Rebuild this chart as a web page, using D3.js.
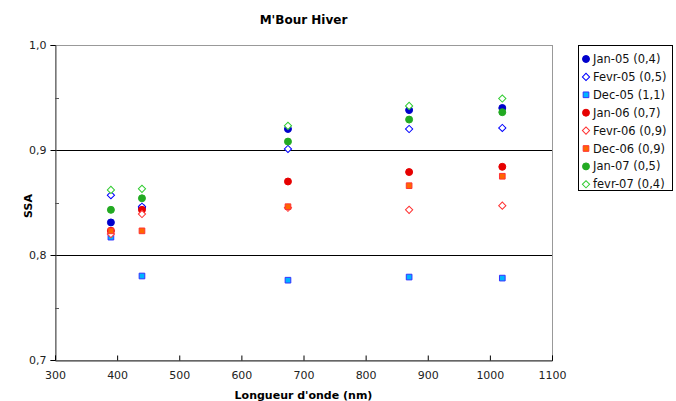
<!DOCTYPE html>
<html>
<head>
<meta charset="utf-8">
<script src="https://cdn.jsdelivr.net/npm/d3@7"></script>
<style>
  body { margin: 0; background: #fff; }
  svg { font-family: "DejaVu Sans", Verdana, sans-serif; }
</style>
</head>
<body>
<svg id="chart" width="676" height="401"></svg>
<script>
// wavelengths (nm)
var wavelengths = [390, 440, 675, 870, 1020];

// SSA values per campaign
var jan05  = [0.831, 0.845, 0.920, 0.938, 0.940];
var fevr05 = [0.857, 0.846, 0.901, 0.920, 0.921];
var dec05  = [0.817, 0.780, 0.776, 0.779, 0.778];
var jan06  = [0.823, 0.843, 0.870, 0.879, 0.884];
var fevr06 = [0.820, 0.839, 0.845, 0.843, 0.847];
var dec06  = [0.823, 0.823, 0.846, 0.866, 0.875];
var jan07  = [0.843, 0.854, 0.908, 0.929, 0.936];
var fevr07 = [0.862, 0.863, 0.923, 0.942, 0.949];

var xTicks = [300, 400, 500, 600, 700, 800, 900, 1000, 1100];
var yTicks = [0.7, 0.8, 0.9, 1.0];
var yMinor = [0.75, 0.85, 0.95];

var series = [
    { name: "Jan-05 (0,4)",  values: jan05,  shape: "circle",  fill: "#0000cc", stroke: "#0000cc" },
    { name: "Fevr-05 (0,5)", values: fevr05, shape: "diamond", fill: "#fff",    stroke: "#0000ff" },
    { name: "Dec-05 (1,1)",  values: dec05,  shape: "square",  fill: "#00b4ff", stroke: "#3333ff" },
    { name: "Jan-06 (0,7)",  values: jan06,  shape: "circle",  fill: "#e60000", stroke: "#e60000" },
    { name: "Fevr-06 (0,9)", values: fevr06, shape: "diamond", fill: "#fff",    stroke: "#ff3333" },
    { name: "Dec-06 (0,9)",  values: dec06,  shape: "square",  fill: "#ff6600", stroke: "#ff3333" },
    { name: "Jan-07 (0,5)",  values: jan07,  shape: "circle",  fill: "#22aa22", stroke: "#22aa22" },
    { name: "fevr-07 (0,4)", values: fevr07, shape: "diamond", fill: "#fff",    stroke: "#33cc33" }
];

var svg = d3.select("#chart");
var pL = 55, pR = 552, pT = 45, pB = 360;

var x = d3.scaleLinear().domain([300, 1100]).range([pL, pR]);
var y = d3.scaleLinear().domain([0.7, 1.0]).range([pB, pT]);
var fmt = d => d3.format(".1f")(d).replace(".", ",");

function symbolPath(shape) {
    if (shape === "circle") return d3.symbol(d3.symbolCircle, 38)();
    if (shape === "square") return d3.symbol(d3.symbolSquare, 32)();
    return d3.symbol(d3.symbolSquare, 26)();
}
function symbolRot(shape) { return shape === "diamond" ? " rotate(45)" : ""; }

// title
svg.append("text").attr("x", (pL + pR) / 2).attr("y", 24)
    .attr("text-anchor", "middle").attr("font-size", 12).attr("font-weight", "bold")
    .text("M'Bour Hiver");

// plot frame
svg.append("rect").attr("x", pL + 0.5).attr("y", pT + 0.5)
    .attr("width", pR - pL).attr("height", pB - pT)
    .attr("fill", "none").attr("stroke", "#999");

// gridlines
svg.append("g").selectAll("line").data(yTicks.filter(d => d > 0.7 && d < 1.0)).join("line")
    .attr("x1", pL).attr("x2", pR)
    .attr("y1", d => Math.round(y(d)) + 0.5).attr("y2", d => Math.round(y(d)) + 0.5)
    .attr("stroke", "#000");

// y axis
var yAxis = d3.axisLeft(y).tickValues(yTicks).tickFormat(fmt).tickSize(5).tickPadding(4);
var gy = svg.append("g").attr("transform", `translate(${pL + 0.5},0)`).call(yAxis);
gy.select(".domain").attr("stroke", "#555");
gy.selectAll("text").attr("font-size", 11).attr("font-family", "DejaVu Sans").attr("fill", "#222");
svg.append("g").selectAll("line").data(yMinor).join("line")
    .attr("x1", pL).attr("x2", pL + 4)
    .attr("y1", d => Math.round(y(d)) + 0.5).attr("y2", d => Math.round(y(d)) + 0.5)
    .attr("stroke", "#555");

// x axis
var xAxis = d3.axisBottom(x).tickValues(xTicks).tickFormat(d3.format("d")).tickSize(-5).tickPadding(11);
var gx = svg.append("g").attr("transform", `translate(0,${pB + 0.5})`).call(xAxis);
gx.select(".domain").attr("stroke", "#333");
gx.selectAll("text").attr("font-size", 11).attr("font-family", "DejaVu Sans").attr("fill", "#222");

// axis titles
svg.append("text").attr("x", (pL + pR) / 2).attr("y", 399)
    .attr("text-anchor", "middle").attr("font-size", 11).attr("font-weight", "bold")
    .text("Longueur d'onde (nm)");
svg.append("text").attr("transform", "translate(32,206) rotate(-90)")
    .attr("text-anchor", "middle").attr("font-size", 11).attr("font-weight", "bold")
    .text("SSA");

// points
series.forEach(function (s) {
    svg.append("g").selectAll("path")
        .data(s.values.map((v, i) => ({ w: wavelengths[i], v: v })))
        .join("path")
        .attr("d", symbolPath(s.shape))
        .attr("transform", d => `translate(${x(d.w)},${y(d.v)})` + symbolRot(s.shape))
        .attr("fill", s.fill).attr("stroke", s.stroke).attr("stroke-width", 1);
});

// legend
var lg = svg.append("g");
lg.append("rect").attr("x", 578.5).attr("y", 45.5).attr("width", 94).attr("height", 145)
    .attr("fill", "#fff").attr("stroke", "#000");
var item = lg.selectAll("g.item").data(series).join("g")
    .attr("transform", (d, i) => `translate(586,${59 + i * 17.9})`);
item.append("path")
    .attr("d", d => symbolPath(d.shape))
    .attr("transform", d => "translate(0,0)" + symbolRot(d.shape))
    .attr("fill", d => d.fill).attr("stroke", d => d.stroke).attr("stroke-width", 1);
item.append("text").attr("x", 7).attr("y", 4).attr("font-size", 11.5).attr("fill", "#111")
    .text(d => d.name);
</script>
</body>
</html>
